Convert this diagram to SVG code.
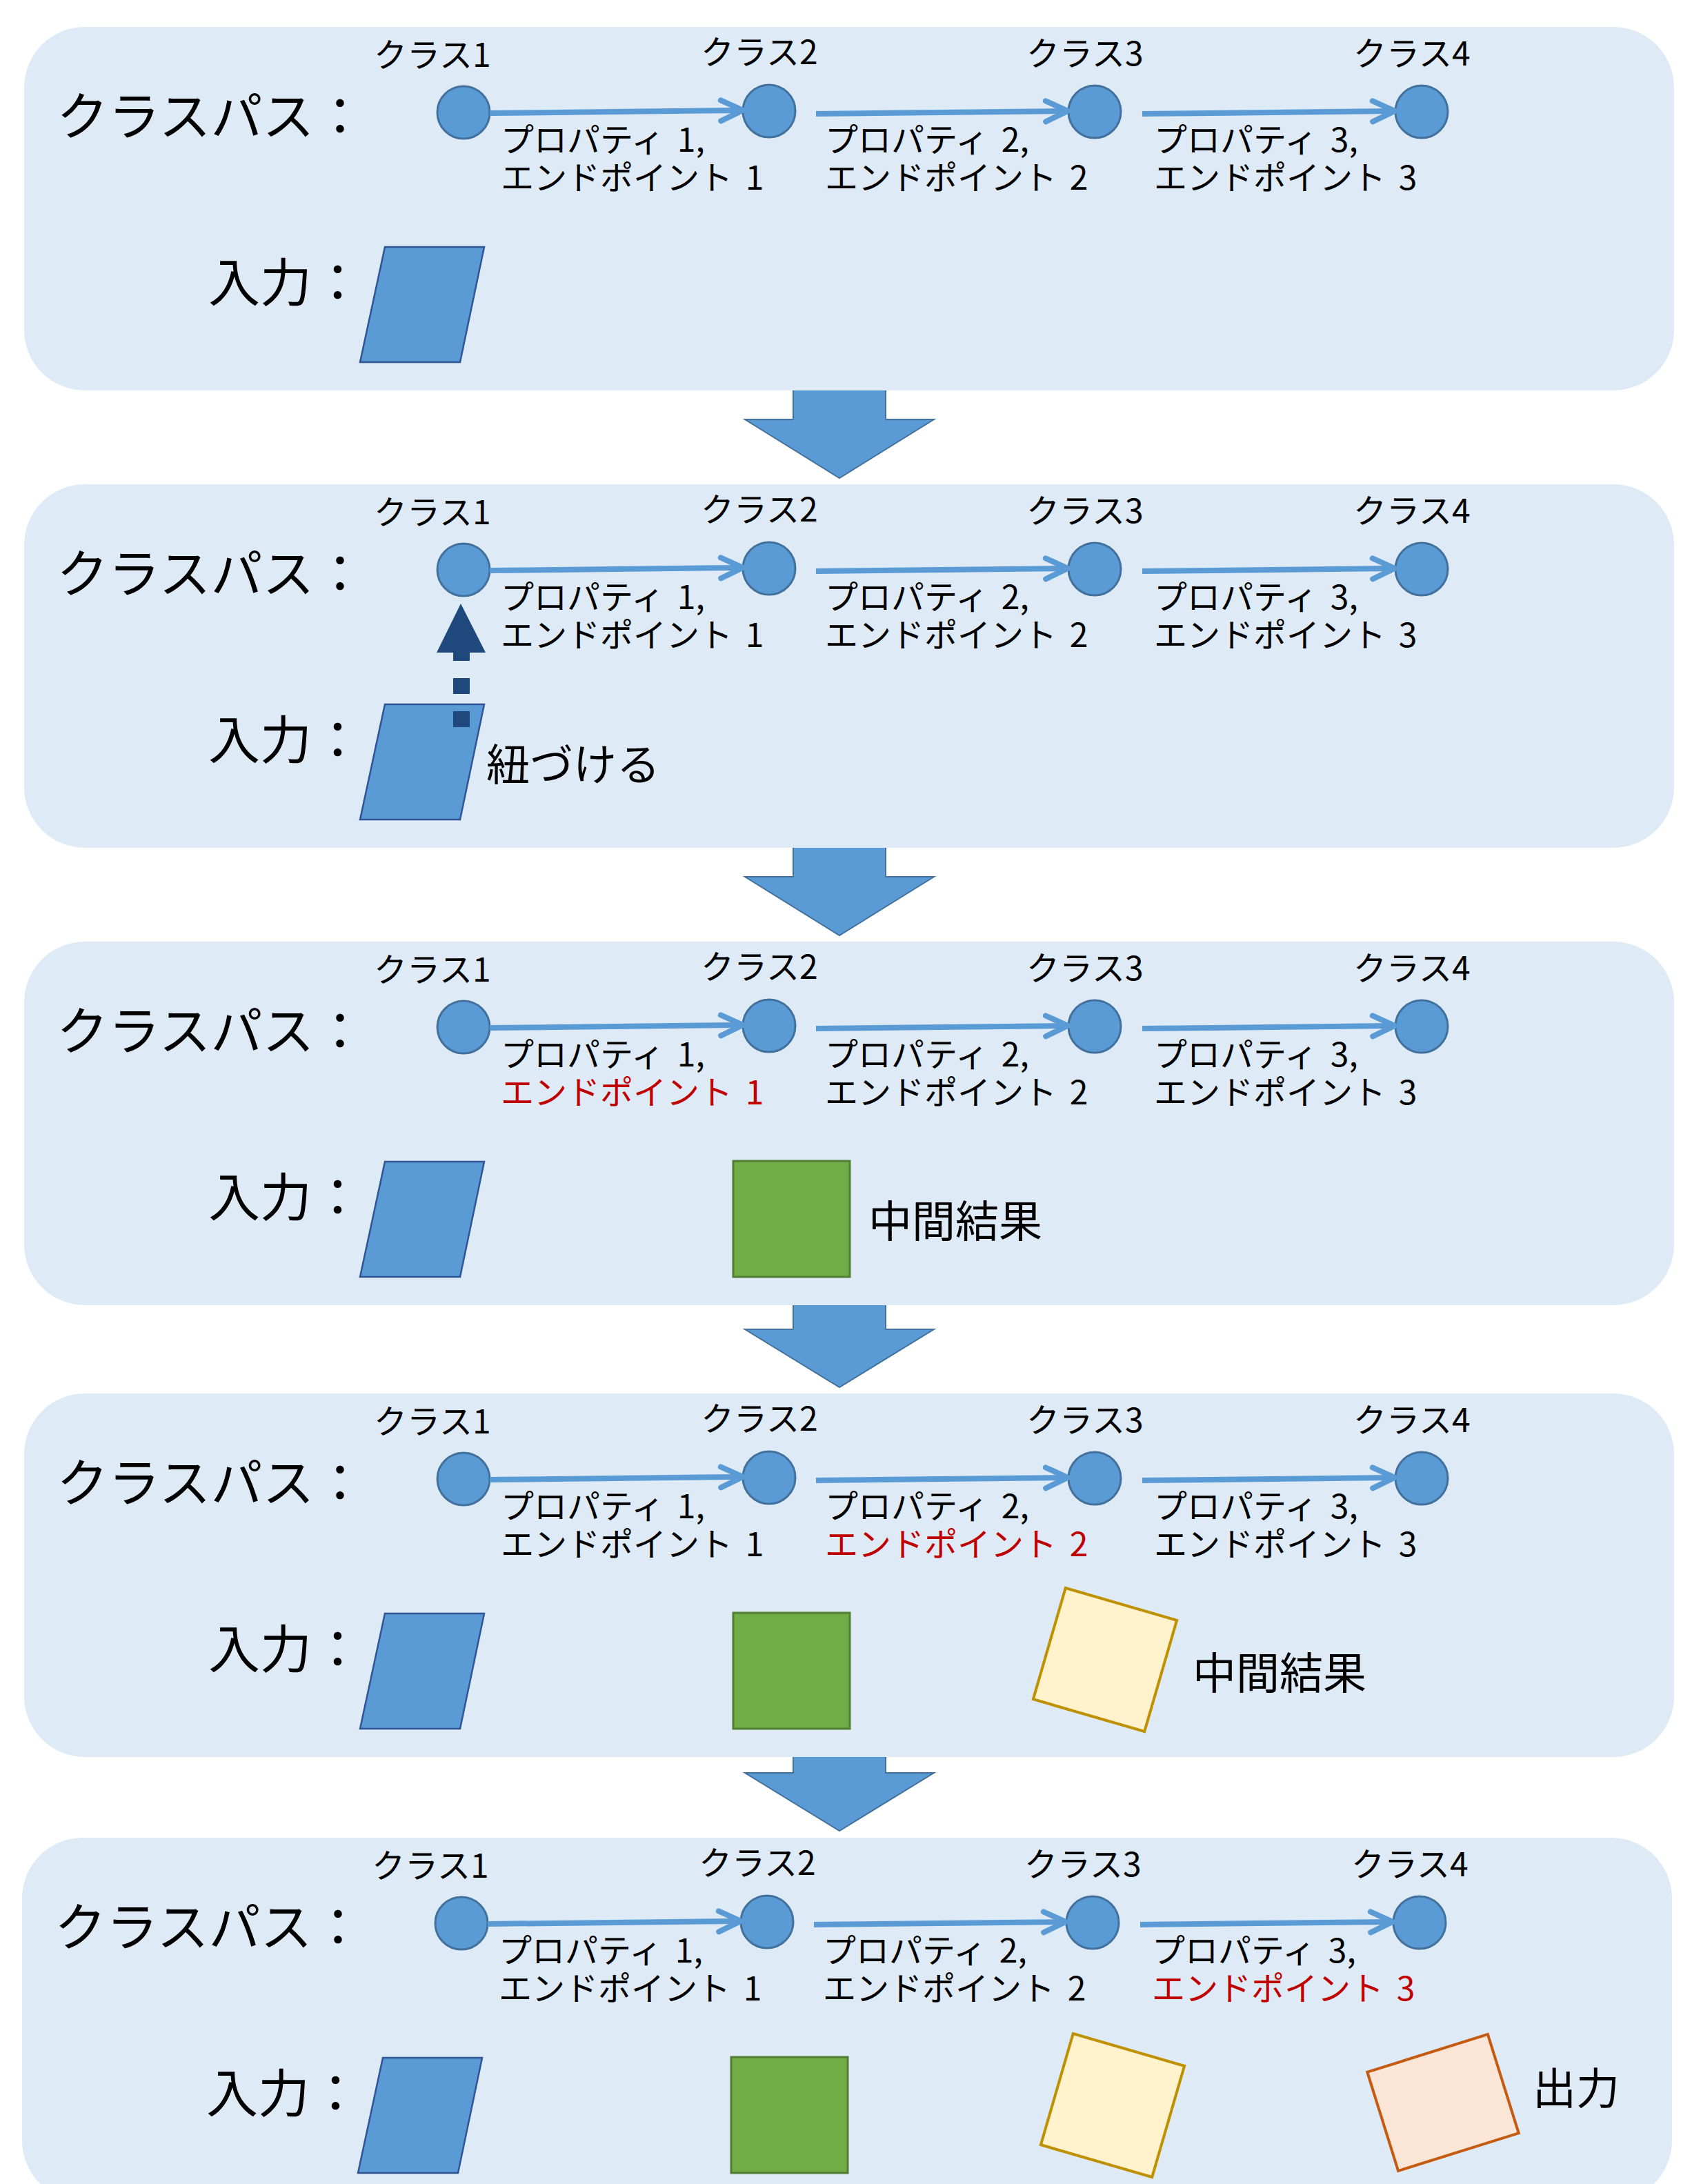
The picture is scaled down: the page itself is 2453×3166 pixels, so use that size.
<svg xmlns="http://www.w3.org/2000/svg" width="2453" height="3166" viewBox="0 0 2453 3166">
<style>
  text { font-family: "Noto Sans CJK JP", "Noto Sans", sans-serif; fill: #000; }
  .big { font-size: 75px; }
  .cls { font-size: 48px; }
  .lbl { font-size: 48px; word-spacing: 8px; }
  .mid { font-size: 63px; }
  .red { fill: #C00000; }
  .panel { fill: #DEEAF6; }
  .node { fill: #5B9BD5; stroke: #41719C; stroke-width: 3; }
  .edge { stroke: #5B9BD5; stroke-width: 8; fill: none; marker-end: url(#chev); }
  .input { fill: #5B9BD5; stroke: #2F5597; stroke-width: 2.5; }
  .green { fill: #70AD47; stroke: #507E32; stroke-width: 3; }
  .yellow { fill: #FFF2CC; stroke: #BF9000; stroke-width: 4; }
  .orange { fill: #FBE5D6; stroke: #C55A11; stroke-width: 4; }
  .block { fill: #5B9BD5; stroke: #41719C; stroke-width: 2; }
  .link { stroke: #1F497D; stroke-width: 24; stroke-dasharray: 23 25; fill: none; }
</style>
<defs>
  <marker id="chev" markerUnits="userSpaceOnUse" markerWidth="60" markerHeight="60" viewBox="-40 -30 60 60" refX="0" refY="0" orient="auto">
    <path d="M-27,-15 L5,0 L-27,15" fill="none" stroke="#5B9BD5" stroke-width="8" stroke-linecap="round" stroke-linejoin="round"/>
  </marker>
  <g id="base">
    <rect class="panel" x="35" y="39" width="2392" height="527" rx="88" ry="88"/>
  </g>
</defs>

<g id="step-arrows">
  <polygon class="block" points="1150,540 1284,540 1284,608 1354,608 1217,693 1080,608 1150,608"/>
  <polygon class="block" points="1150,1200 1284,1200 1284,1271 1354,1271 1217,1356 1080,1271 1150,1271"/>
  <polygon class="block" points="1150,1860 1284,1860 1284,1927 1354,1927 1217,2011 1080,1927 1150,1927"/>
  <polygon class="block" points="1150,2500 1284,2500 1284,2570 1354,2570 1217,2654 1080,2570 1150,2570"/>
</g>

<!-- Panel 1 -->
<g id="panel1">
  <use href="#base"/>
  <text class="big" x="82" y="196">クラスパス：</text>
  <text class="big" x="302" y="437">入力：</text>
  <g id="p1-class1"><circle class="node" cx="672" cy="163" r="38"/><text class="cls" x="542" y="97">クラス1</text></g>
  <g id="p1-class2"><circle class="node" cx="1115" cy="161" r="38"/><text class="cls" x="1016" y="93">クラス2</text></g>
  <g id="p1-class3"><circle class="node" cx="1587" cy="162" r="38"/><text class="cls" x="1488" y="95">クラス3</text></g>
  <g id="p1-class4"><circle class="node" cx="2061" cy="162" r="38"/><text class="cls" x="1962" y="95">クラス4</text></g>
  <g id="p1-connectors">
    <line class="edge" x1="710" y1="164" x2="1072" y2="160"/>
    <line class="edge" x1="1183" y1="165" x2="1543" y2="161"/>
    <line class="edge" x1="1656" y1="165" x2="2017" y2="161"/>
    <text class="lbl" x="726" y="220">プロパティ 1,<tspan x="726" y="275">エンドポイント 1</tspan></text>
    <text class="lbl" x="1196" y="220">プロパティ 2,<tspan x="1196" y="275">エンドポイント 2</tspan></text>
    <text class="lbl" x="1673" y="220">プロパティ 3,<tspan x="1673" y="275">エンドポイント 3</tspan></text>
  </g>
  <g id="p1-input"><polygon class="input" points="558,358 702,358 667,525 522,525"/></g>
</g>

<!-- Panel 2 -->
<g id="panel2" transform="translate(0,663)">
  <use href="#base"/>
  <text class="big" x="82" y="196">クラスパス：</text>
  <text class="big" x="302" y="437">入力：</text>
  <g id="p2-class1"><circle class="node" cx="672" cy="163" r="38"/><text class="cls" x="542" y="97">クラス1</text></g>
  <g id="p2-class2"><circle class="node" cx="1115" cy="161" r="38"/><text class="cls" x="1016" y="93">クラス2</text></g>
  <g id="p2-class3"><circle class="node" cx="1587" cy="162" r="38"/><text class="cls" x="1488" y="95">クラス3</text></g>
  <g id="p2-class4"><circle class="node" cx="2061" cy="162" r="38"/><text class="cls" x="1962" y="95">クラス4</text></g>
  <g id="p2-input"><polygon class="input" points="558,358 702,358 667,525 522,525"/></g>
  <g id="p2-connectors">
    <line class="edge" x1="710" y1="164" x2="1072" y2="160"/>
    <line class="edge" x1="1183" y1="165" x2="1543" y2="161"/>
    <line class="edge" x1="1656" y1="165" x2="2017" y2="161"/>
    <text class="lbl" x="726" y="220">プロパティ 1,<tspan x="726" y="275">エンドポイント 1</tspan></text>
    <text class="lbl" x="1196" y="220">プロパティ 2,<tspan x="1196" y="275">エンドポイント 2</tspan></text>
    <text class="lbl" x="1673" y="220">プロパティ 3,<tspan x="1673" y="275">エンドポイント 3</tspan></text>
    <line class="link" x1="669" y1="391" x2="669" y2="283"/>
    <polygon points="633,283 704,283 668,212" fill="#1F497D"/>
  </g>
  <text class="mid" x="705" y="468">紐づける</text>
</g>

<!-- Panel 3 -->
<g id="panel3" transform="translate(0,1326)">
  <use href="#base"/>
  <text class="big" x="82" y="196">クラスパス：</text>
  <text class="big" x="302" y="437">入力：</text>
  <g id="p3-class1"><circle class="node" cx="672" cy="163" r="38"/><text class="cls" x="542" y="97">クラス1</text></g>
  <g id="p3-class2"><circle class="node" cx="1115" cy="161" r="38"/><text class="cls" x="1016" y="93">クラス2</text></g>
  <g id="p3-class3"><circle class="node" cx="1587" cy="162" r="38"/><text class="cls" x="1488" y="95">クラス3</text></g>
  <g id="p3-class4"><circle class="node" cx="2061" cy="162" r="38"/><text class="cls" x="1962" y="95">クラス4</text></g>
  <g id="p3-connectors">
    <line class="edge" x1="710" y1="164" x2="1072" y2="160"/>
    <line class="edge" x1="1183" y1="165" x2="1543" y2="161"/>
    <line class="edge" x1="1656" y1="165" x2="2017" y2="161"/>
    <text class="lbl" x="726" y="220">プロパティ 1,<tspan class="red" x="726" y="275">エンドポイント 1</tspan></text>
    <text class="lbl" x="1196" y="220">プロパティ 2,<tspan x="1196" y="275">エンドポイント 2</tspan></text>
    <text class="lbl" x="1673" y="220">プロパティ 3,<tspan x="1673" y="275">エンドポイント 3</tspan></text>
  </g>
  <g id="p3-input"><polygon class="input" points="558,358 702,358 667,525 522,525"/></g>
  <g id="p3-mid1"><rect class="green" x="1063" y="357" width="169" height="168"/><text class="mid" x="1259" y="467">中間結果</text></g>
</g>

<!-- Panel 4 -->
<g id="panel4" transform="translate(0,1981)">
  <use href="#base"/>
  <text class="big" x="82" y="196">クラスパス：</text>
  <text class="big" x="302" y="437">入力：</text>
  <g id="p4-class1"><circle class="node" cx="672" cy="163" r="38"/><text class="cls" x="542" y="97">クラス1</text></g>
  <g id="p4-class2"><circle class="node" cx="1115" cy="161" r="38"/><text class="cls" x="1016" y="93">クラス2</text></g>
  <g id="p4-class3"><circle class="node" cx="1587" cy="162" r="38"/><text class="cls" x="1488" y="95">クラス3</text></g>
  <g id="p4-class4"><circle class="node" cx="2061" cy="162" r="38"/><text class="cls" x="1962" y="95">クラス4</text></g>
  <g id="p4-connectors">
    <line class="edge" x1="710" y1="164" x2="1072" y2="160"/>
    <line class="edge" x1="1183" y1="165" x2="1543" y2="161"/>
    <line class="edge" x1="1656" y1="165" x2="2017" y2="161"/>
    <text class="lbl" x="726" y="220">プロパティ 1,<tspan x="726" y="275">エンドポイント 1</tspan></text>
    <text class="lbl" x="1196" y="220">プロパティ 2,<tspan class="red" x="1196" y="275">エンドポイント 2</tspan></text>
    <text class="lbl" x="1673" y="220">プロパティ 3,<tspan x="1673" y="275">エンドポイント 3</tspan></text>
  </g>
  <g id="p4-input"><polygon class="input" points="558,358 702,358 667,525 522,525"/></g>
  <g id="p4-mid1"><rect class="green" x="1063" y="357" width="169" height="168"/></g>
  <g id="p4-mid2"><rect class="yellow" x="-84" y="-84" width="168" height="168" transform="translate(1602,425) rotate(16.2)"/><text class="mid" x="1729" y="467">中間結果</text></g>
</g>

<!-- Panel 5 -->
<g id="panel5" transform="translate(-3,2625)">
  <use href="#base"/>
  <text class="big" x="82" y="196">クラスパス：</text>
  <text class="big" x="302" y="437">入力：</text>
  <g id="p5-class1"><circle class="node" cx="672" cy="163" r="38"/><text class="cls" x="542" y="97">クラス1</text></g>
  <g id="p5-class2"><circle class="node" cx="1115" cy="161" r="38"/><text class="cls" x="1016" y="93">クラス2</text></g>
  <g id="p5-class3"><circle class="node" cx="1587" cy="162" r="38"/><text class="cls" x="1488" y="95">クラス3</text></g>
  <g id="p5-class4"><circle class="node" cx="2061" cy="162" r="38"/><text class="cls" x="1962" y="95">クラス4</text></g>
  <g id="p5-connectors">
    <line class="edge" x1="710" y1="164" x2="1072" y2="160"/>
    <line class="edge" x1="1183" y1="165" x2="1543" y2="161"/>
    <line class="edge" x1="1656" y1="165" x2="2017" y2="161"/>
    <text class="lbl" x="726" y="220">プロパティ 1,<tspan x="726" y="275">エンドポイント 1</tspan></text>
    <text class="lbl" x="1196" y="220">プロパティ 2,<tspan x="1196" y="275">エンドポイント 2</tspan></text>
    <text class="lbl" x="1673" y="220">プロパティ 3,<tspan class="red" x="1673" y="275">エンドポイント 3</tspan></text>
  </g>
  <g id="p5-input"><polygon class="input" points="558,358 702,358 667,525 522,525"/></g>
  <g id="p5-mid1"><rect class="green" x="1063" y="357" width="169" height="168"/></g>
  <g id="p5-mid2"><rect class="yellow" x="-84" y="-84" width="168" height="168" transform="translate(1616,427) rotate(16.2)"/></g>
  <g id="p5-output"><rect class="orange" x="-91.5" y="-75" width="183" height="150" transform="translate(2095,423) rotate(-17.4)"/><text class="mid" x="2225" y="425">出力</text></g>
</g>
</svg>
